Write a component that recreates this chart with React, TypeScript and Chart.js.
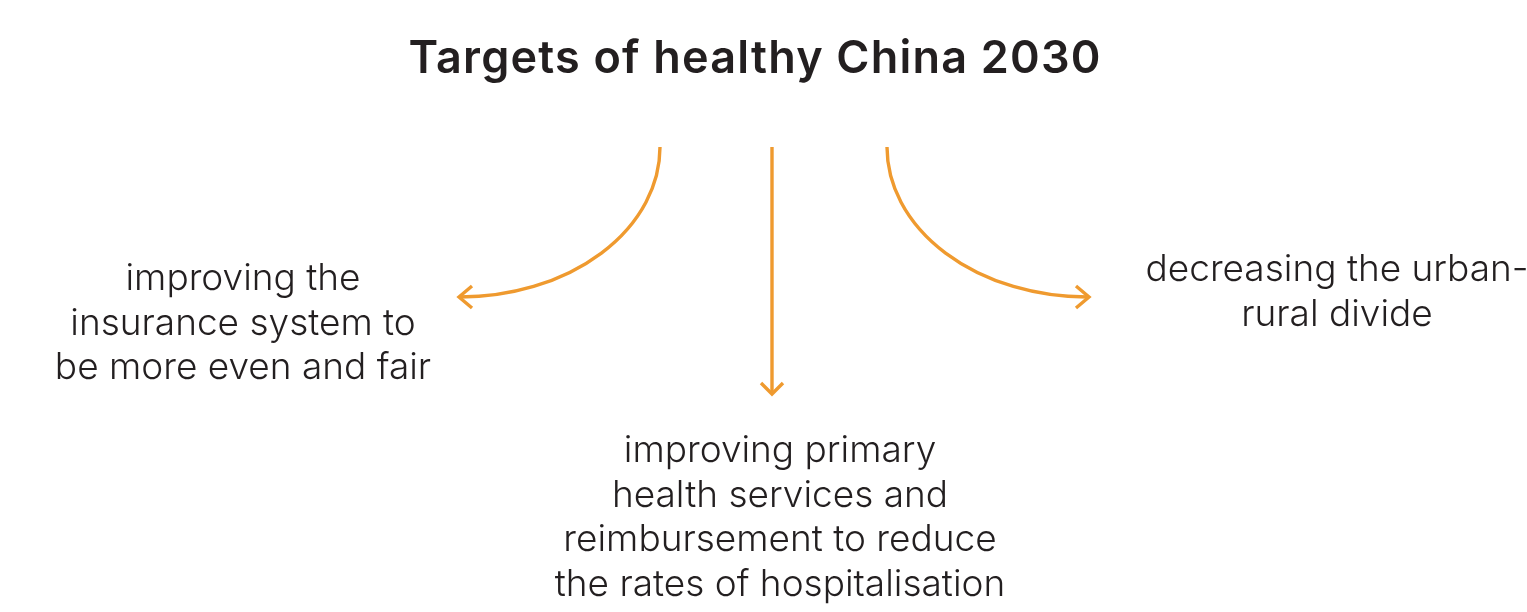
import React, { useEffect, useRef } from "react";
import { Chart, registerables } from "chart.js";

Chart.register(...registerables);

// ---- content ----
const titleText = "Targets of healthy China 2030";
const targetLabels: string[][] = [
  ["improving the", "insurance system to", "be more even and fair"],
  ["improving primary", "health services and", "reimbursement to reduce", "the rates of hospitalisation"],
  ["decreasing the urban-", "rural divide"],
];

// ---- anchors (diagram coordinates) ----
const titleX = 755;
const titleY = 59;
const labelX = [243, 780, 1337];
const labelY = [279, 451, 270];
const lineGap = 44.5;

// curved arrows: start at top, end at arrow tip
const arcStartX = [660, 887];
const arcStartY = [147, 147];
const arcEndX = [460, 1087];
const arcEndY = [297, 297];

// straight arrow stem
const stemX = [772, 772];
const stemY = [147, 393];

// arrow heads (chevrons)
const headLeftX = [472, 459, 472];
const headLeftY = [286, 297, 308];
const headDownX = [761, 772, 783];
const headDownY = [383, 394, 383];
const headRightX = [1076, 1089, 1076];
const headRightY = [286, 297, 308];

const ORANGE = "#EF9A2F";
const INK = "#231F20";

const toPts = (xs: number[], ys: number[]) => xs.map((x, i) => ({ x, y: ys[i] }));

export default function App() {
  const ref = useRef<HTMLCanvasElement | null>(null);

  useEffect(() => {
    if (!ref.current) return;
    const lineDs = (xs: number[], ys: number[]) => ({
      data: toPts(xs, ys),
      showLine: true,
      borderColor: ORANGE,
      backgroundColor: ORANGE,
      borderWidth: 3.4,
      pointRadius: 0,
      borderJoinStyle: "miter" as const,
      borderCapStyle: "butt" as const,
      tension: 0,
    });

    const diagramPlugin = {
      id: "diagram",
      afterDatasetsDraw(chart: any) {
        const { ctx, scales } = chart;
        const X = (v: number) => scales.x.getPixelForValue(v);
        const Y = (v: number) => scales.y.getPixelForValue(v);
        ctx.save();
        // arcs
        ctx.strokeStyle = ORANGE;
        ctx.lineWidth = 3.4;
        for (let i = 0; i < arcStartX.length; i++) {
          const sx = X(arcStartX[i]);
          const sy = Y(arcStartY[i]);
          const ex = X(arcEndX[i]);
          const ey = Y(arcEndY[i]);
          const cx = ex;
          const cy = sy;
          const rx = Math.abs(sx - ex);
          const ry = Math.abs(ey - sy);
          const start = sx > ex ? 0 : Math.PI;
          ctx.beginPath();
          ctx.ellipse(cx, cy, rx, ry, 0, start, Math.PI / 2, sx < ex);
          ctx.stroke();
        }
        // title
        ctx.fillStyle = INK;
        ctx.textAlign = "center";
        ctx.textBaseline = "middle";
        ctx.font = "600 45px Inter, 'Noto Sans', sans-serif";
        ctx.letterSpacing = "1.2px";
        ctx.fillText(titleText, X(titleX), Y(titleY));
        // labels
        ctx.letterSpacing = "0px";
        ctx.font = "300 37px Inter, 'Noto Sans', sans-serif";
        targetLabels.forEach((lines, i) => {
          lines.forEach((t, j) => {
            ctx.fillText(t, X(labelX[i]), Y(labelY[i] + j * lineGap));
          });
        });
        ctx.restore();
      },
    };

    const chart = new Chart(ref.current, {
      type: "scatter",
      data: {
        datasets: [
          lineDs(stemX, stemY),
          lineDs(headLeftX, headLeftY),
          lineDs(headDownX, headDownY),
          lineDs(headRightX, headRightY),
        ],
      },
      options: {
        animation: false,
        responsive: true,
        maintainAspectRatio: false,
        events: [],
        layout: { padding: 0 },
        plugins: { legend: { display: false }, tooltip: { enabled: false }, title: { display: false } },
        scales: {
          x: { type: "linear", min: 0, max: 1527, display: false },
          y: { type: "linear", min: 0, max: 612, reverse: true, display: false },
        },
      },
      plugins: [diagramPlugin],
    });
    return () => chart.destroy();
  }, []);

  return (
    <div style={{ position: "fixed", left: 0, top: 0, width: 1527, height: 612, background: "#fff" }}>
      <canvas ref={ref} />
    </div>
  );
}
